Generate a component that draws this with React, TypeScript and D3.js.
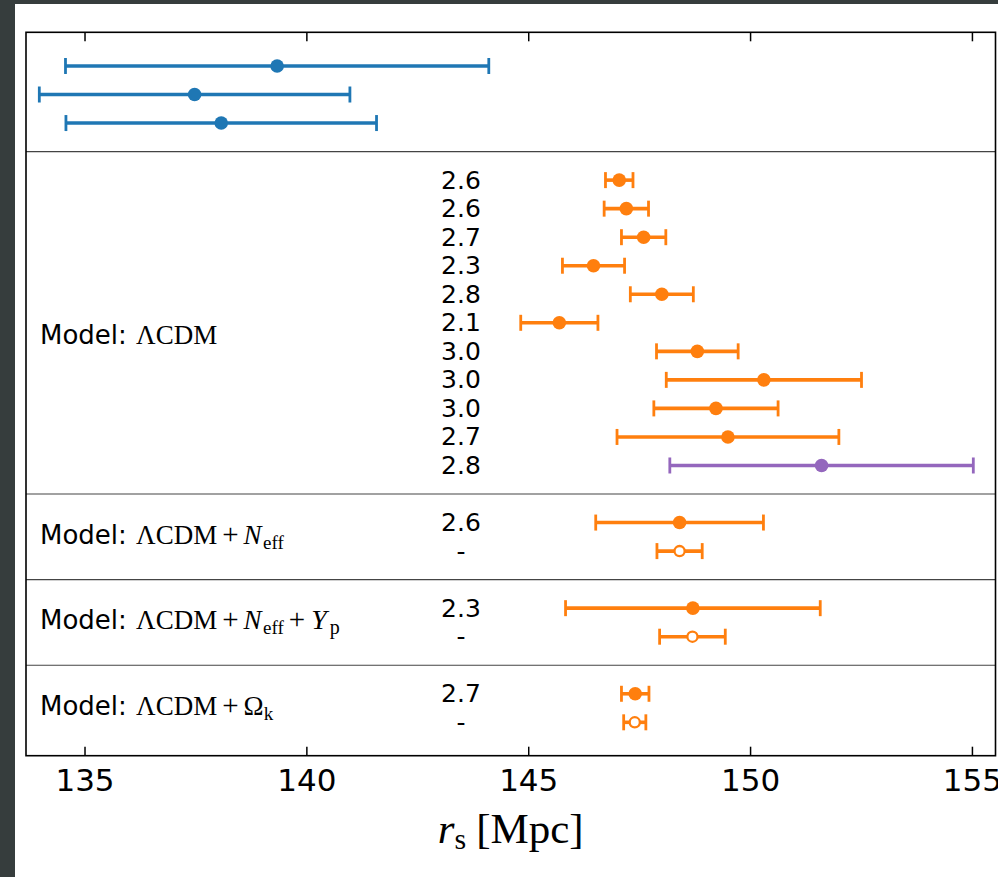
import React from "react";
import * as d3 from "d3";

// ---------- data ----------
const groupSizes = [3, 11, 2, 2, 2];
const groupModels = ["", "LCDM", "LCDM+Neff", "LCDM+Neff+Yp", "LCDM+Ok"];
const rowLabels = ["", "", "", "2.6", "2.6", "2.7", "2.3", "2.8", "2.1", "3.0", "3.0", "3.0", "2.7", "2.8", "2.6", "-", "2.3", "-", "2.7", "-"];
const centers = [139.33, 137.47, 138.07, 147.04, 147.2, 147.59, 146.46, 148.0, 145.69, 148.8, 150.3, 149.22, 149.49, 151.6, 148.4, 148.4, 148.7, 148.69, 147.4, 147.39];
const errors = [4.77, 3.5, 3.5, 0.31, 0.5, 0.5, 0.7, 0.71, 0.87, 0.92, 2.2, 1.4, 2.5, 3.42, 1.89, 0.51, 2.87, 0.74, 0.31, 0.25];
const samples = ["early", "early", "early", "lcdm", "lcdm", "lcdm", "lcdm", "lcdm", "lcdm", "lcdm", "lcdm", "lcdm", "lcdm", "late", "lcdm", "lcdm", "lcdm", "lcdm", "lcdm", "lcdm"];
const markerKinds = ["filled", "filled", "filled", "filled", "filled", "filled", "filled", "filled", "filled", "filled", "filled", "filled", "filled", "filled", "filled", "open", "filled", "open", "filled", "open"];
const xTicks = [135, 140, 145, 150, 155];

// ---------- layout ----------
const W = 998;
const H = 877;
const frame = { left: 26, right: 995.5, top: 32.3, bottom: 755.7 };
const labelX = 461;
const SANS = "'DejaVu Sans', sans-serif";
const SERIF = "'Liberation Serif', 'Times New Roman', serif";

const color = d3.scaleOrdinal<string, string>().domain(["early", "lcdm", "late"]).range(["#1f77b4", "#ff7f0e", "#9467bd"]);

// compute row index of each row and separators
const rowIndex: number[] = [];
const separators: number[] = [];
const groupAnchor: number[] = [];
{
  let idx = 0;
  groupSizes.forEach((n, g) => {
    const first = idx;
    for (let i = 0; i < n; i++) rowIndex.push(idx++);
    const last = idx - 1;
    groupAnchor.push((first + last + (n % 2 === 1 ? 1 : 0)) / 2);
    if (g < groupSizes.length - 1) {
      separators.push(idx);
      idx++;
    }
  });
}
const nIdx = rowIndex[rowIndex.length - 1];

const x = d3.scaleLinear().domain([133.67, 155.52]).range([frame.left, frame.right]);
const y = d3.scaleLinear().domain([-1.18, nIdx + 1.17]).range([frame.top, frame.bottom]);

function ModelLabel({ model, yy }: { model: string; yy: number }) {
  const fs = 26;
  const sfs = 27;
  const sub = 19;
  const pfs = 29;
  const parts: React.ReactNode[] = [];
  parts.push(<tspan key="m" fontFamily={SANS} fontSize={fs}>Model: </tspan>);
  parts.push(<tspan key="l" fontFamily={SERIF} fontSize={sfs} dx={1}>ΛCDM</tspan>);
  const plus = (k: string, dy = 0) => (
    <tspan key={k} fontFamily={SERIF} fontSize={pfs} dx={5} dy={dy}>+</tspan>
  );
  if (model.includes("Neff")) {
    parts.push(plus("p1"));
    parts.push(<tspan key="n" fontFamily={SERIF} fontSize={sfs} fontStyle="italic" dx={5}>N</tspan>);
    parts.push(<tspan key="ne" fontFamily={SERIF} fontSize={sub} dy={5} dx={1.5}>eff</tspan>);
    if (model.includes("Yp")) {
      parts.push(plus("p2", -5));
      parts.push(<tspan key="y" fontFamily={SERIF} fontSize={sfs + 1} fontStyle="italic" dx={6}>Y</tspan>);
      parts.push(<tspan key="yp" fontFamily={SERIF} fontSize={sub + 1} dy={5} dx={3}>p</tspan>);
    }
  }
  if (model.includes("Ok")) {
    parts.push(plus("p3"));
    parts.push(<tspan key="o" fontFamily={SERIF} fontSize={sfs} dx={5}>Ω</tspan>);
    parts.push(<tspan key="ok" fontFamily={SERIF} fontSize={sub} dy={5}>k</tspan>);
  }
  return (
    <text x={40} y={yy + 7} fill="#000">
      {parts}
    </text>
  );
}

export default function App() {
  const cap = 8;
  return (
    <svg width={W} height={H} style={{ position: "absolute", left: 0, top: 0 }}>
      <rect x={0} y={0} width={W} height={H} fill="#363d3d" />
      <rect x={15} y={4} width={W - 15} height={H - 4} fill="#ffffff" />

      {/* separators */}
      {separators.map((s, i) => (
        <line key={"s" + i} x1={frame.left} x2={frame.right} y1={y(s)} y2={y(s)} stroke="#444" strokeWidth={1.2} />
      ))}

      {/* error bars */}
      {centers.map((c, i) => {
        const yy = y(rowIndex[i]);
        const col = color(samples[i]);
        const x0 = x(c - errors[i]);
        const x1 = x(c + errors[i]);
        const open = markerKinds[i] === "open";
        return (
          <g key={"r" + i}>
            <line x1={x0} x2={x1} y1={yy} y2={yy} stroke={col} strokeWidth={3.6} />
            <line x1={x0} x2={x0} y1={yy - cap} y2={yy + cap} stroke={col} strokeWidth={2.8} />
            <line x1={x1} x2={x1} y1={yy - cap} y2={yy + cap} stroke={col} strokeWidth={2.8} />
            {open ? (
              <circle cx={x(c)} cy={yy} r={5.1} fill="#fff" stroke={col} strokeWidth={2.3} />
            ) : (
              <circle cx={x(c)} cy={yy} r={6.8} fill={col} />
            )}
          </g>
        );
      })}

      {/* row labels */}
      {rowLabels.map((t, i) =>
        t ? (
          <text key={"t" + i} x={labelX} y={y(rowIndex[i]) + 8.5} textAnchor="middle" fontFamily={SANS} fontSize={25} fill="#000">
            {t}
          </text>
        ) : null
      )}

      {/* model labels */}
      {groupModels.map((m, g) => (m ? <ModelLabel key={"g" + g} model={m} yy={y(groupAnchor[g])} /> : null))}

      {/* frame */}
      <rect x={frame.left} y={frame.top} width={frame.right - frame.left} height={frame.bottom - frame.top} fill="none" stroke="#000" strokeWidth={1.6} />

      {/* ticks */}
      {xTicks.map((t) => (
        <g key={"k" + t}>
          <line x1={x(t)} x2={x(t)} y1={frame.bottom} y2={frame.bottom - 9} stroke="#000" strokeWidth={1.5} />
          <line x1={x(t)} x2={x(t)} y1={frame.top} y2={frame.top + 9} stroke="#000" strokeWidth={1.5} />
          <text x={x(t)} y={790.5} textAnchor="middle" fontFamily={SANS} fontSize={31} fill="#000">
            {t}
          </text>
        </g>
      ))}

      {/* axis label */}
      <text x={(frame.left + frame.right) / 2} y={843} textAnchor="middle" fontFamily={SERIF} fontSize={43} fill="#000">
        <tspan fontStyle="italic">r</tspan>
        <tspan fontSize={30} dy={6}>s</tspan>
        <tspan dy={-6} dx={10}>[Mpc]</tspan>
      </text>
    </svg>
  );
}
